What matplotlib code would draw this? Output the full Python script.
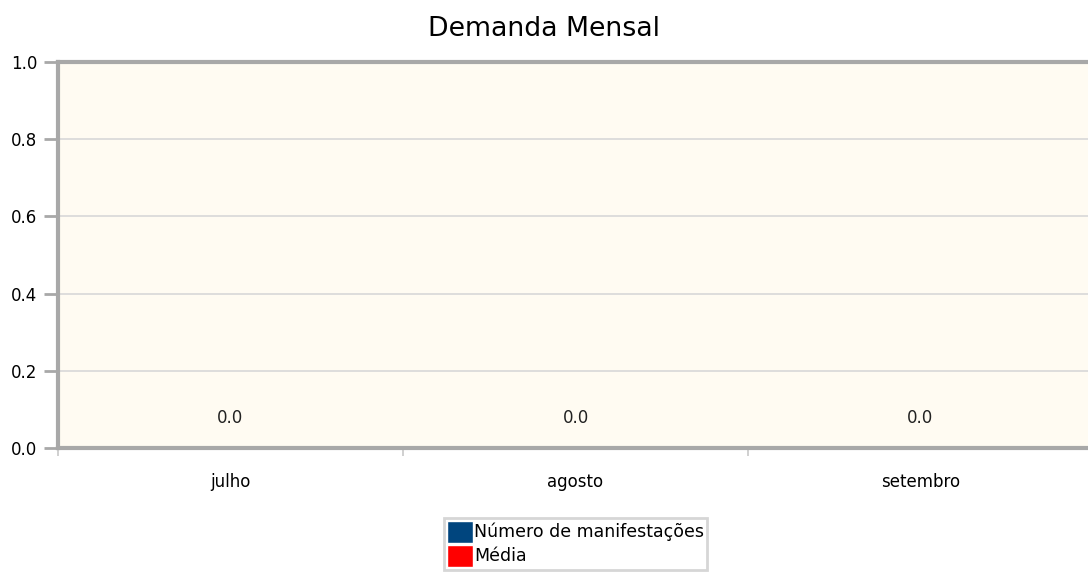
import numpy as np
import matplotlib.pyplot as plt
from matplotlib.patches import Patch

# dados
meses = ['julho', 'agosto', 'setembro']
manifestacoes = [0.0, 0.0, 0.0]
media = [0.0, 0.0, 0.0]

COR_MANIF = '#00457e'
COR_MEDIA = '#ff0000'
FUNDO = '#fffbf2'

fig = plt.figure(figsize=(10.88, 5.74), dpi=100)
ax = fig.add_axes([58 / 1088, 126 / 574, 1035 / 1088, 386 / 574])
ax.set_facecolor(FUNDO)

x = np.arange(len(meses))
ax.bar(x, manifestacoes, width=0.6, color=COR_MANIF)
ax.plot(x, media, color=COR_MEDIA, lw=0)

for xi, v in zip(x, manifestacoes):
    ax.annotate(f'{v:.1f}', (xi, v), xytext=(0, 21.5), textcoords='offset points',
                ha='center', va='center', fontsize=12, color='#222222')

ax.set_xlim(-0.5, 2.5)
ax.set_ylim(0, 1.0)
ax.set_yticks(np.arange(0, 1.01, 0.2))
ax.set_yticklabels([f'{t:.1f}' for t in np.arange(0, 1.01, 0.2)], fontsize=12)
ax.yaxis.grid(True, color='#d8d8d8', lw=1.2)
ax.set_axisbelow(True)

# ticks do eixo x nas fronteiras das categorias
ax.set_xticks([-0.5, 0.5, 1.5, 2.5])
ax.set_xticklabels([])
ax.set_xticks(x, minor=True)
ax.set_xticklabels(meses, minor=True, fontsize=12)
ax.tick_params(axis='x', which='minor', length=0, pad=18)
ax.tick_params(axis='x', which='major', length=6, color='#c8c8c8', width=1.2,
               direction='out')
ax.tick_params(axis='y', length=10, color='#a8a8a8', width=2, pad=5)

for lado in ['left', 'bottom', 'top']:
    ax.spines[lado].set_color('#a8a8a8')
    ax.spines[lado].set_linewidth(3)
ax.spines['right'].set_visible(False)

fig.suptitle('Demanda Mensal', y=1 - 29 / 574, va='center', fontsize=19.3)

handles = [Patch(facecolor=COR_MANIF, edgecolor='white'),
           Patch(facecolor=COR_MEDIA, edgecolor='white')]
leg = fig.legend(handles, ['Número de manifestações', 'Média'],
                 loc='upper left', bbox_to_anchor=(444 / 1088, 1 - 518 / 574),
                 fontsize=12.5, frameon=True, fancybox=False, borderpad=0.15,
                 handlelength=1.5, handleheight=1.6, handletextpad=0.1,
                 labelspacing=0.1, borderaxespad=0)
leg.get_frame().set_edgecolor('#cccccc')
leg.get_frame().set_linewidth(2)

fig.savefig('out.png', dpi=100)
